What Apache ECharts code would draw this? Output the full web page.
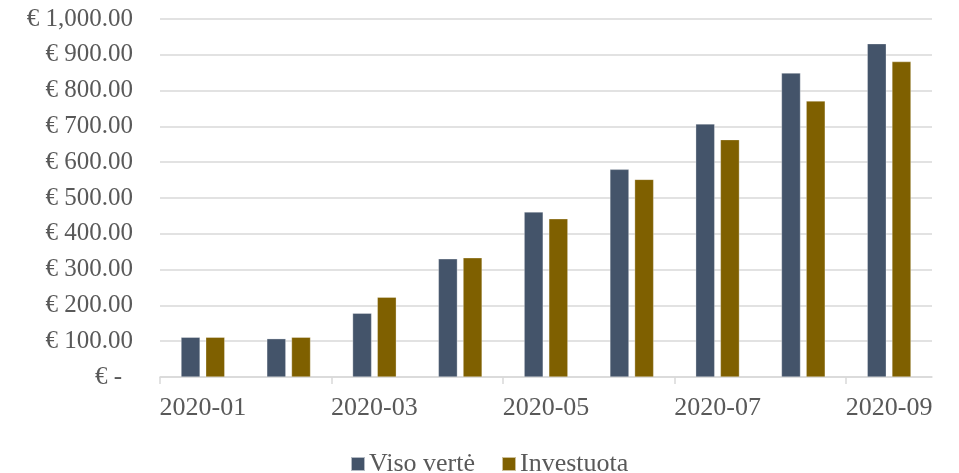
<!DOCTYPE html>
<html>
<head>
<meta charset="utf-8">
<script src="https://cdn.jsdelivr.net/npm/echarts@6/dist/echarts.min.js"></script>
<style>html,body{margin:0;padding:0;background:#fff}#c{width:959px;height:473px}</style>
</head>
<body>
<div id="c"></div>
<script>
const categories = ['2020-01','2020-02','2020-03','2020-04','2020-05','2020-06','2020-07','2020-08','2020-09'];
const visoVerte = [111, 107, 178, 330, 461, 580, 707, 849, 931];
const investuota = [111, 111, 223, 333, 442, 552, 663, 771, 881];
const seriesNames = ['Viso vertė', 'Investuota'];

const FONT = '"Liberation Serif", serif';
const TXT = '#595959';
const GRID_L = 160, GRID_R = 27, GRID_T = 19, GRID_B = 96;
const plotW = 959 - GRID_L - GRID_R;
const band = plotW / categories.length;

const chart = echarts.init(document.getElementById('c'));
chart.setOption({
  animation: false,
  textStyle: { fontFamily: FONT },
  grid: [
    { left: GRID_L, right: GRID_R, top: GRID_T, bottom: GRID_B, containLabel: false },
    // helper grid spanning the first 8 categories, only used to draw boundary ticks every 2 categories
    { left: GRID_L, right: GRID_R + band, top: GRID_T, bottom: GRID_B, containLabel: false }
  ],
  legend: {
    data: seriesNames,
    top: 446,
    left: 345,
    itemWidth: 14, itemHeight: 14, itemGap: 26,
    icon: 'rect',
    textStyle: { fontFamily: FONT, fontSize: 26, color: TXT, padding: [0,0,0,-1] }
  },
  xAxis: [
    {
      type: 'category',
      gridIndex: 0,
      data: categories,
      axisLine: { lineStyle: { color: '#d9d9d9', width: 1.5 } },
      axisTick: { show: false },
      axisLabel: { interval: 1, fontFamily: FONT, fontSize: 26, color: TXT, margin: 18 }
    },
    {
      type: 'value',
      gridIndex: 1,
      min: 0, max: categories.length - 1, interval: 2,
      axisLine: { show: false },
      axisTick: { show: true, length: 7, lineStyle: { color: '#d9d9d9', width: 1.5 } },
      axisLabel: { show: false },
      splitLine: { show: false }
    }
  ],
  yAxis: [
    {
      type: 'value',
      gridIndex: 0,
      min: 0, max: 1000, interval: 100,
      axisLine: { show: false },
      axisTick: { show: false },
      splitLine: { lineStyle: { color: '#d9d9d9', width: 1.5 } },
      axisLabel: {
        fontFamily: FONT, fontSize: 25, color: TXT, margin: 27,
        formatter: v => v === 0 ? '{z|€ -}' : '€ ' + v.toLocaleString('en-US', { minimumFractionDigits: 2, maximumFractionDigits: 2 }),
        rich: { z: { fontFamily: FONT, fontSize: 25, color: TXT, padding: [0, 11, 0, 0] } }
      }
    },
    {
      type: 'value', gridIndex: 1, min: 0, max: 1000, show: false, splitLine: { show: false }
    }
  ],
  series: [
    { name: seriesNames[0], type: 'bar', data: visoVerte, barWidth: 19, barGap: '30%',
      itemStyle: { color: '#44546A', borderColor: 'rgba(255,255,255,0.6)', borderWidth: 0.5 } },
    { name: seriesNames[1], type: 'bar', data: investuota, barWidth: 19,
      itemStyle: { color: '#7F6000', borderColor: 'rgba(255,255,255,0.6)', borderWidth: 0.5 } }
  ]
});
</script>
</body>
</html>
